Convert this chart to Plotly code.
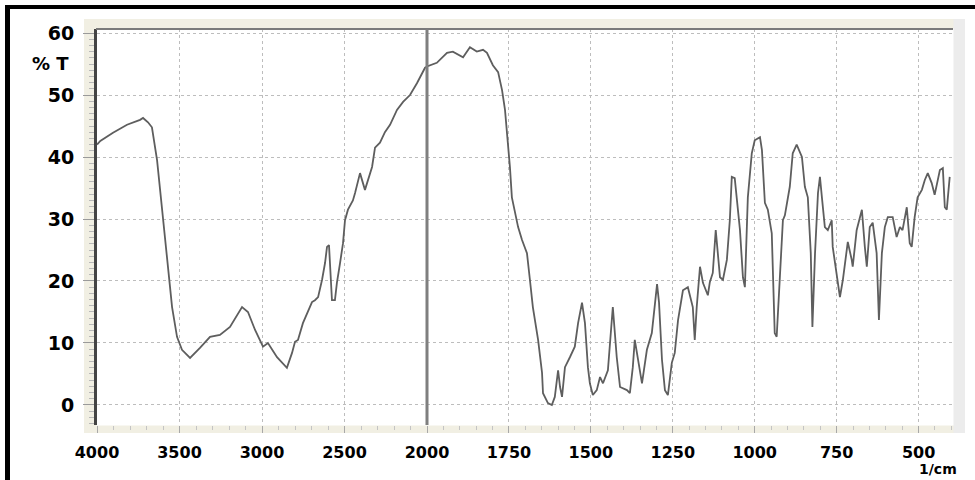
import plotly.graph_objects as go

# ---------------- data ----------------
wn_left = [4000, 3980, 3903, 3818, 3739, 3721, 3691, 3667, 3636, 3600, 3576, 3545,
           3515, 3485, 3436, 3376, 3315, 3255, 3194, 3121, 3085, 3042, 2994, 2964,
           2909, 2849, 2818, 2800, 2782, 2752, 2697, 2679, 2660, 2636, 2618, 2606,
           2594, 2588, 2576, 2558, 2546, 2527, 2509, 2497, 2479, 2449, 2436, 2406,
           2376, 2333, 2315, 2285, 2255, 2224, 2182, 2145, 2103, 2061, 2012, 2000]
t_left = [42.0, 42.6, 43.9, 45.2, 46.0, 46.3, 45.6, 44.8, 39.5, 29.8, 23.4, 15.8,
          11.0, 8.9, 7.6, 9.2, 11.0, 11.3, 12.6, 15.8, 15.0, 12.1, 9.4, 10.0,
          7.7, 6.0, 8.4, 10.2, 10.5, 13.2, 16.6, 16.9, 17.4, 20.2, 22.9, 25.5,
          25.8, 22.3, 16.9, 16.9, 19.7, 22.9, 26.1, 29.8, 31.5, 33.0, 34.2, 37.4,
          34.7, 38.4, 41.5, 42.3, 44.0, 45.2, 47.6, 48.9, 50.0, 51.9, 54.4, 54.6]

wn_right = [2000, 1970, 1939, 1921, 1890, 1869, 1848, 1829, 1817, 1799, 1783, 1771,
            1762, 1753, 1747, 1741, 1732, 1722, 1710, 1695, 1686, 1677, 1661, 1649,
            1646, 1631, 1619, 1610, 1600, 1594, 1588, 1579, 1564, 1549, 1539, 1527,
            1518, 1509, 1503, 1494, 1482, 1472, 1463, 1448, 1433, 1427, 1421, 1411,
            1390, 1381, 1372, 1366, 1357, 1344, 1329, 1314, 1298, 1292, 1283, 1274,
            1265, 1253, 1244, 1234, 1219, 1204, 1189, 1183, 1177, 1167, 1158, 1143,
            1137, 1128, 1119, 1112, 1106, 1097, 1085, 1076, 1070, 1061, 1051, 1045,
            1036, 1030, 1024, 1021, 1009, 1000, 984, 978, 969, 960, 948, 945,
            939, 933, 923, 914, 908, 893, 884, 872, 856, 847, 838, 829,
            824, 816, 807, 801, 795, 786, 777, 765, 762, 750, 740, 731,
            719, 716, 704, 701, 689, 673, 664, 658, 649, 640, 628, 624,
            621, 612, 603, 594, 579, 567, 557, 549, 542, 536, 527, 521,
            512, 503, 490, 481, 472, 460, 451, 435, 426, 420, 414, 405]
t_right = [54.6, 55.2, 56.8, 57.0, 56.1, 57.7, 57.0, 57.3, 56.8, 54.8, 53.7, 50.8,
           47.6, 42.7, 38.4, 33.5, 31.0, 28.7, 26.6, 24.5, 20.2, 15.8, 10.5, 5.2,
           1.9, 0.3, 0.0, 1.3, 5.6, 2.9, 1.3, 6.1, 7.7, 9.4, 13.2, 16.5,
           13.2, 6.1, 3.5, 1.6, 2.4, 4.5, 3.5, 5.6, 15.8, 11.0, 7.7, 2.9,
           2.4, 1.9, 6.1, 10.5, 7.3, 3.5, 8.9, 11.6, 19.5, 16.5, 7.3, 2.4,
           1.6, 6.8, 8.4, 13.7, 18.5, 19.0, 15.8, 10.5, 15.8, 22.3, 19.7, 17.7,
           19.8, 21.3, 28.2, 24.5, 20.6, 20.2, 23.4, 29.8, 36.8, 36.6, 31.5, 28.2,
           20.6, 19.0, 28.7, 33.5, 40.6, 42.7, 43.2, 41.1, 32.6, 31.5, 27.7, 21.8,
           11.6, 11.0, 21.3, 29.8, 30.6, 35.2, 40.6, 42.0, 40.0, 35.2, 33.5, 24.5,
           12.6, 24.5, 34.2, 36.8, 33.5, 28.7, 28.2, 29.8, 25.5, 21.3, 17.4, 20.2,
           25.5, 26.3, 23.4, 22.3, 28.2, 31.5, 25.5, 22.3, 28.7, 29.4, 24.5, 16.5,
           13.7, 24.5, 28.7, 30.3, 30.3, 27.1, 28.7, 28.2, 30.3, 31.9, 26.1, 25.5,
           30.3, 33.5, 34.7, 36.3, 37.4, 35.8, 33.9, 37.9, 38.2, 31.9, 31.5, 36.8]

xticks_left = [4000, 3500, 3000, 2500]
xticks_right = [2000, 1750, 1500, 1250, 1000, 750, 500]
yticks = [0, 10, 20, 30, 40, 50, 60]

# ---------------- layout geometry ----------------
W, H = 975, 480
ML, MR, MT, MB = 97, 22, 29, 55
PW, PH = W - ML - MR, H - MT - MB
SPLIT = 330 / PW  # 4000-2000 section width fraction


def px(x):
    return (x - ML) / PW


def py(y):
    return (H - MB - y) / PH


FONT = "DejaVu Sans"
LINE_COLOR = "#5e5e5e"
GRID = "#bdbdbd"

fig = go.Figure()
fig.add_trace(go.Scatter(x=wn_left, y=t_left, xaxis="x", yaxis="y", mode="lines",
                         line=dict(color=LINE_COLOR, width=1.8), showlegend=False,
                         hoverinfo="skip"))
fig.add_trace(go.Scatter(x=wn_right, y=t_right, xaxis="x2", yaxis="y", mode="lines",
                         line=dict(color=LINE_COLOR, width=1.8), showlegend=False,
                         hoverinfo="skip"))

xcommon = dict(showgrid=True, gridcolor=GRID, griddash="dot", gridwidth=1,
               zeroline=False, showline=False, ticks="outside", ticklen=7,
               tickcolor="#a8a8a8", tickwidth=1, anchor="y",
               tickfont=dict(family=FONT, size=16, color="black", weight="bold"),
               ticklabelstandoff=6, fixedrange=True)

fig.update_layout(
    width=W, height=H,
    margin=dict(l=ML, r=MR, t=MT, b=MB),
    paper_bgcolor="white", plot_bgcolor="white",
    xaxis=dict(domain=[0, SPLIT], range=[4000, 2000], tickvals=xticks_left,
               ticktext=[str(v) for v in xticks_left],
               minor=dict(ticks="outside", dtick=100, ticklen=4, tickcolor="#c4c4c4"),
               **xcommon),
    xaxis2=dict(domain=[SPLIT, 1], range=[2000, 395], tickvals=xticks_right,
                ticktext=[str(v) for v in xticks_right],
                minor=dict(ticks="outside", dtick=50, ticklen=4, tickcolor="#c4c4c4"),
                **xcommon),
    yaxis=dict(range=[-3.23, 60.65], tickvals=yticks,
               ticktext=[str(v) for v in yticks],
               showgrid=True, gridcolor=GRID, griddash="dot", gridwidth=1,
               zeroline=False, showline=True, linecolor="#444444", linewidth=3,
               ticks="outside", ticklen=11, tickcolor="#9a9a9a", tickwidth=1,
               minor=dict(ticks="outside", dtick=1, ticklen=5, tickcolor="#b8b8b8"),
               tickfont=dict(family=FONT, size=19, color="black", weight="bold"),
               ticklabelstandoff=5, fixedrange=True),
)

shapes = []
# beige frame around the plotting area
beige = "#f1efe3"
shapes.append(dict(type="rect", xref="paper", yref="paper", layer="below",
                   x0=px(84), x1=px(965), y0=py(19), y1=py(28.5),
                   fillcolor=beige, line=dict(width=0)))
shapes.append(dict(type="rect", xref="paper", yref="paper", layer="below",
                   x0=px(84), x1=px(96), y0=py(19), y1=py(433),
                   fillcolor=beige, line=dict(width=0)))
shapes.append(dict(type="rect", xref="paper", yref="paper", layer="below",
                   x0=px(84), x1=px(965), y0=py(425.5), y1=py(433),
                   fillcolor=beige, line=dict(width=0)))
shapes.append(dict(type="rect", xref="paper", yref="paper", layer="below",
                   x0=px(953.5), x1=px(965), y0=py(19), y1=py(433),
                   fillcolor="#ececec", line=dict(width=0)))
# top dark edge of plotting area
shapes.append(dict(type="line", xref="paper", yref="paper", layer="above",
                   x0=px(96), x1=px(953), y0=1, y1=1,
                   line=dict(color="#7a7a7a", width=2)))
# scale-change line at 2000 1/cm
shapes.append(dict(type="line", xref="paper", yref="paper", layer="above",
                   x0=SPLIT, x1=SPLIT, y0=0, y1=1,
                   line=dict(color="#7f7f7f", width=3)))
# black picture border (left and top)
shapes.append(dict(type="rect", xref="paper", yref="paper", layer="above",
                   x0=px(5), x1=px(10), y0=py(480), y1=py(5),
                   fillcolor="black", line=dict(width=0)))
shapes.append(dict(type="rect", xref="paper", yref="paper", layer="above",
                   x0=px(5), x1=px(975), y0=py(9), y1=py(5),
                   fillcolor="black", line=dict(width=0)))
fig.update_layout(shapes=shapes)

fig.add_annotation(text="% T", xref="paper", yref="paper", x=px(50), y=py(63),
                   showarrow=False, xanchor="center", yanchor="middle",
                   font=dict(family=FONT, size=18, color="black", weight="bold"))
fig.add_annotation(text="1/cm", xref="paper", yref="paper", x=px(938), y=py(469),
                   showarrow=False, xanchor="center", yanchor="middle",
                   font=dict(family=FONT, size=14, color="black", weight="bold"))

fig.write_html("out.html", config={"displayModeBar": False, "staticPlot": True},
               post_script="document.body.style.margin='0';document.body.style.padding='0';")
